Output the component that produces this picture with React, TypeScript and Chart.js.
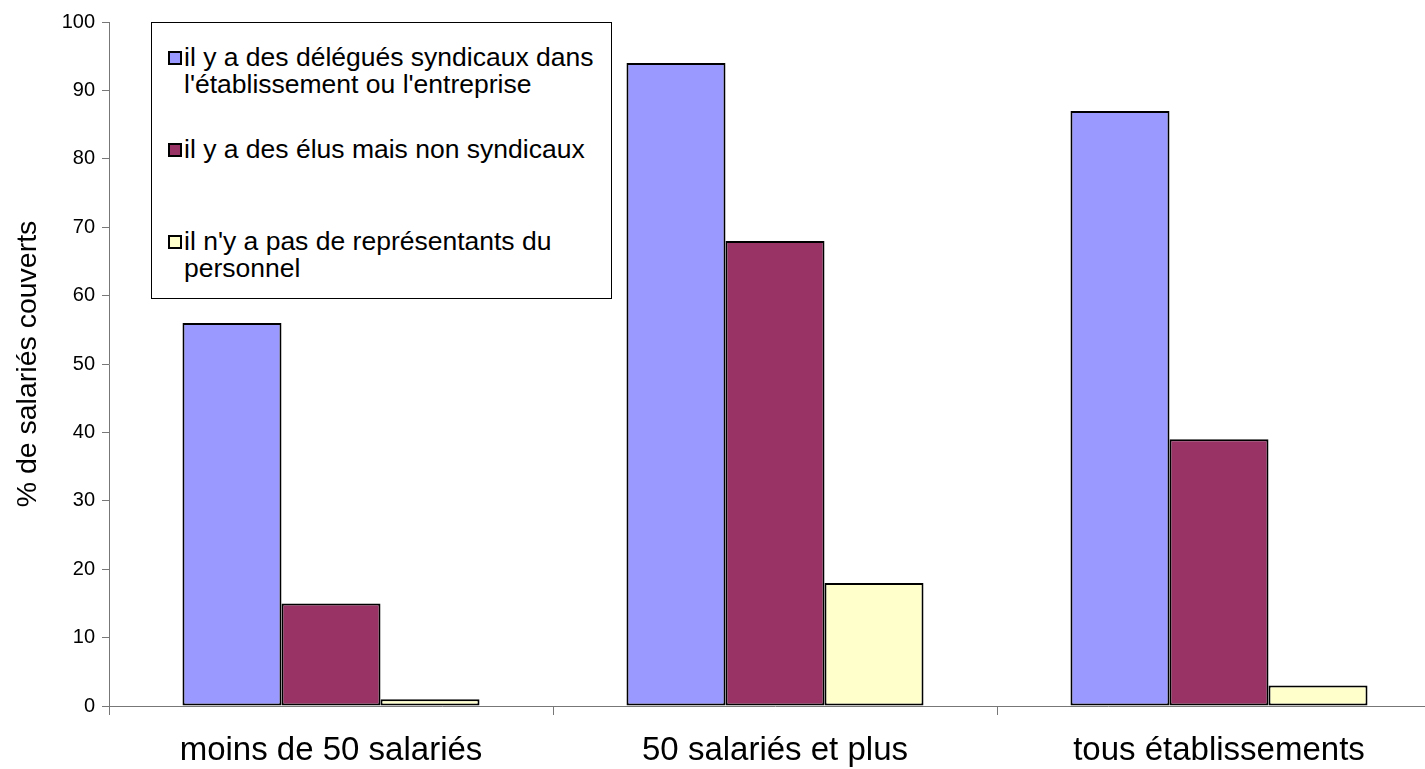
import React, { useEffect, useRef } from "react";
import { Chart, registerables } from "chart.js";

Chart.register(...registerables);

const categories = ["moins de 50 salariés", "50 salariés et plus", "tous établissements"];
const seriesNames = [
  "il y a des délégués syndicaux dans l'établissement ou l'entreprise",
  "il y a des élus mais non syndicaux",
  "il n'y a pas de représentants du personnel",
];
const legendLines = [
  ["il y a des délégués syndicaux dans", "l'établissement ou l'entreprise"],
  ["il y a des élus mais non syndicaux"],
  ["il n'y a pas de représentants du", "personnel"],
];
const delegues = [56, 94, 87];
const elus = [15, 68, 39];
const aucun = [1, 18, 3];
const seriesColors = ["#9999FF", "#993366", "#FFFFCC"];
const yTitle = "% de salariés couverts";

const FONT = "'Liberation Sans', Arial, Helvetica, sans-serif";
const CANVAS_W = 1460;
const CANVAS_H = 769;

export default function App() {
  const ref = useRef<HTMLCanvasElement | null>(null);

  useEffect(() => {
    if (!ref.current) return;
    const values = [delegues, elus, aucun];
    const chart = new Chart(ref.current, {
      type: "bar",
      data: {
        labels: categories,
        datasets: values.map((v, i) => ({
          label: seriesNames[i],
          data: v,
          backgroundColor: seriesColors[i],
          borderColor: "#000000",
          borderWidth: 2,
          borderSkipped: false,
          categoryPercentage: 0.669,
          barPercentage: 1,
        })),
      },
      options: {
        responsive: false,
        animation: false,
        devicePixelRatio: 1,
        layout: { padding: { top: 22, right: CANVAS_W - 1441, left: 0, bottom: 0 } },
        plugins: { legend: { display: false }, tooltip: { enabled: false } },
        scales: {
          x: {
            offset: true,
            grid: {
              offset: true,
              drawOnChartArea: false,
              drawTicks: true,
              tickLength: 9,
              color: "#777777",
              lineWidth: 1,
            },
            border: { display: true, color: "#777777", width: 1 },
            ticks: {
              color: "#000000",
              padding: 16,
              font: { family: FONT, size: 33 },
              maxRotation: 0,
            },
            afterFit: (s: any) => {
              s.height = 63;
            },
          },
          y: {
            min: 0,
            max: 100,
            grid: {
              drawOnChartArea: false,
              drawTicks: true,
              tickLength: 7,
              color: "#777777",
            },
            border: { display: true, color: "#777777", width: 1 },
            ticks: {
              stepSize: 10,
              color: "#000000",
              padding: 7,
              font: { family: FONT, size: 20 },
            },
            title: {
              display: true,
              text: yTitle,
              color: "#000000",
              font: { family: FONT, size: 28.5 },
              padding: { top: 11, bottom: 0 },
            },
            afterFit: (s: any) => {
              s.width = 109;
            },
          },
        },
      },
    });
    return () => chart.destroy();
  }, []);

  return (
    <div
      style={{
        position: "fixed",
        left: 0,
        top: 0,
        width: 1425,
        height: 769,
        overflow: "hidden",
        background: "#ffffff",
      }}
    >
      <canvas
        ref={ref}
        width={CANVAS_W}
        height={CANVAS_H}
        style={{ position: "absolute", left: 0, top: 0, width: CANVAS_W, height: CANVAS_H }}
      />
      <div
        style={{
          position: "absolute",
          left: 151,
          top: 22,
          width: 459,
          height: 275,
          border: "1px solid #000000",
          background: "#ffffff",
          fontFamily: FONT,
          fontSize: 26.5,
          color: "#000000",
        }}
      >
        {legendLines.map((lines, i) => (
          <div
            key={i}
            style={{ position: "relative", height: 92, boxSizing: "border-box", paddingTop: 21, paddingLeft: 32 }}
          >
            <div
              style={{
                position: "absolute",
                left: 16,
                top: 28,
                width: 14,
                height: 14,
                boxSizing: "border-box",
                border: "2px solid #000000",
                background: seriesColors[i],
              }}
            />
            {lines.map((t, j) => (
              <div key={j} style={{ lineHeight: "27px", whiteSpace: "nowrap" }}>
                {t}
              </div>
            ))}
          </div>
        ))}
      </div>
    </div>
  );
}
